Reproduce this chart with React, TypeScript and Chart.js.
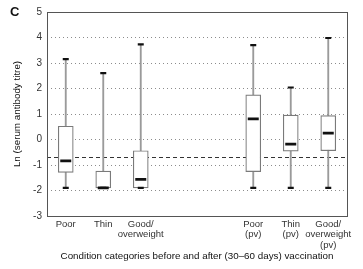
import React, { useEffect, useRef } from "react";
import { Chart, registerables } from "chart.js";

Chart.register(...registerables);

const categories: (string | string[])[] = [
  "Poor",
  "Thin",
  ["Good/", "overweight"],
  "",
  "",
  ["Poor", "(pv)"],
  ["Thin", "(pv)"],
  ["Good/", "overweight", "(pv)"],
];
const whiskerMin: (number | null)[] = [-1.9, -1.9, -1.9, null, null, -1.9, -1.9, -1.9];
const q1: (number | null)[] = [-1.29, -1.9, -1.9, null, null, -1.26, -0.46, -0.44];
const median: (number | null)[] = [-0.84, -1.9, -1.56, null, null, 0.81, -0.18, 0.25];
const q3: (number | null)[] = [0.52, -1.24, -0.44, null, null, 1.75, 0.96, 0.94];
const whiskerMax: (number | null)[] = [3.15, 2.6, 3.73, null, null, 3.7, 2.04, 3.98];
const thresholdValue = -0.7;
const yTicks = [-3, -2, -1, 0, 1, 2, 3, 4, 5];
const panelLabel = "C";
const yTitle = "Ln (serum antibody titre)";
const xTitle = "Condition categories before and after (30\u201360 days) vaccination";

const FONT = "'Liberation Sans', Arial, sans-serif";

export default function App() {
  const ref = useRef<HTMLCanvasElement | null>(null);
  useEffect(() => {
    document.body.style.margin = "0";
    const canvas = ref.current!;
    const extrasPlugin = {
      id: "extras",
      beforeDatasetsDraw(chart: any) {
        const { ctx, chartArea, scales } = chart;
        const y = Math.round(scales.y.getPixelForValue(thresholdValue)) + 0.5;
        ctx.save();
        ctx.strokeStyle = "#333";
        ctx.lineWidth = 1;
        ctx.setLineDash([4, 3]);
        ctx.beginPath();
        ctx.moveTo(chartArea.left, y);
        ctx.lineTo(chartArea.right, y);
        ctx.stroke();
        ctx.restore();
      },
      afterDraw(chart: any) {
        const { ctx, chartArea } = chart;
        ctx.save();
        ctx.strokeStyle = "#555";
        ctx.lineWidth = 1;
        ctx.strokeRect(
          Math.round(chartArea.left) + 0.5,
          Math.round(chartArea.top) + 0.5,
          Math.round(chartArea.right - chartArea.left),
          Math.round(chartArea.bottom - chartArea.top)
        );
        ctx.fillStyle = "#111";
        ctx.font = `bold 13px ${FONT}`;
        ctx.textBaseline = "middle";
        ctx.textAlign = "left";
        ctx.fillText(panelLabel, 10, 12);
        ctx.restore();
      },
    };
    const chart = new Chart(canvas, {
      type: "bar",
      data: {
        labels: categories as any,
        datasets: [
          {
            type: "bar",
            label: "whisker",
            data: whiskerMin.map((v, i) => (v === null ? null : [v, whiskerMax[i]])) as any,
            backgroundColor: "#9a9a9a",
            borderWidth: 0,
            barThickness: 1.2,
            grouped: false,
            order: 4,
          },
          {
            type: "bar",
            label: "box",
            data: q1.map((v, i) => (v === null ? null : [v, q3[i]])) as any,
            backgroundColor: "#ffffff",
            borderColor: "#7a7a7a",
            borderWidth: 1.2,
            borderSkipped: false,
            barThickness: 15,
            grouped: false,
            order: 3,
          },
          {
            type: "line",
            label: "median",
            data: median as any,
            showLine: false,
            pointStyle: "line",
            pointRadius: 5.5,
            pointBorderWidth: 2.8,
            borderColor: "#111",
            backgroundColor: "#111",
            order: 2,
          },
          {
            type: "line",
            label: "max",
            data: whiskerMax as any,
            showLine: false,
            pointStyle: "line",
            pointRadius: 3,
            pointBorderWidth: 2.2,
            borderColor: "#111",
            backgroundColor: "#111",
            order: 1,
          },
          {
            type: "line",
            label: "min",
            data: whiskerMin as any,
            showLine: false,
            pointStyle: "line",
            pointRadius: 3,
            pointBorderWidth: 2.2,
            borderColor: "#111",
            backgroundColor: "#111",
            order: 1,
          },
        ],
      },
      options: {
        animation: false,
        responsive: false,
        layout: { padding: { left: 0, right: 16, top: 12, bottom: 0 } },
        plugins: { legend: { display: false }, tooltip: { enabled: false } },
        scales: {
          x: {
            type: "category",
            grid: { display: false, drawTicks: false },
            border: { display: false },
            ticks: {
              color: "#333",
              font: { family: FONT, size: 9.5, lineHeight: 1.1 },
              padding: 3,
              maxRotation: 0,
              autoSkip: false,
            },
            title: {
              display: true,
              text: xTitle,
              color: "#111",
              font: { family: FONT, size: 9.8, lineHeight: 1.2 },
              padding: { top: 0, bottom: 7 },
            },
            afterFit(scale: any) {
              scale.height = 53;
            },
          },
          y: {
            min: -3,
            max: 5,
            afterBuildTicks(scale: any) {
              scale.ticks = yTicks.map((v) => ({ value: v }));
            },
            grid: {
              color: "#8c8c8c",
              drawTicks: false,
              lineWidth: 1,
            },
            border: { display: false, dash: [1, 3] },
            ticks: {
              color: "#333",
              font: { family: FONT, size: 10 },
              padding: 5,
            },
            title: {
              display: true,
              text: yTitle,
              color: "#111",
              font: { family: FONT, size: 9.8, lineHeight: 1.2 },
              padding: { top: 11, bottom: 0 },
            },
            afterFit(scale: any) {
              scale.width = 47;
            },
          },
        },
      } as any,
      plugins: [extrasPlugin],
    });
    return () => chart.destroy();
  }, []);
  return (
    <div style={{ position: "absolute", left: 0, top: 0, width: 363, height: 269 }}>
      <canvas ref={ref} width={363} height={269} style={{ width: 363, height: 269 }} />
    </div>
  );
}
